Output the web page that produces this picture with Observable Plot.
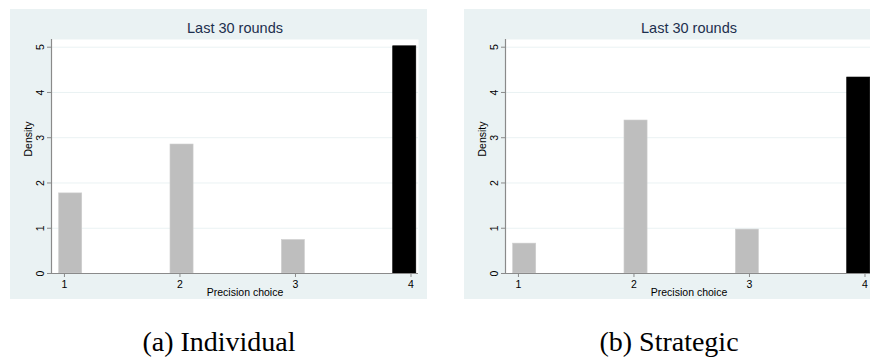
<!DOCTYPE html>
<html>
<head>
<meta charset="utf-8">
<script src="https://cdn.jsdelivr.net/npm/d3@7"></script>
<script src="https://cdn.jsdelivr.net/npm/@observablehq/plot@0.6"></script>
<style>
  body { margin: 0; background: #fff; }
  #wrap { position: relative; width: 870px; height: 362px; overflow: hidden; }
  .panel { position: absolute; top: 9px; width: 417px; height: 290px; }
  .panel svg { max-width: none !important; display: block; }
  .cap {
    position: absolute; top: 325px; width: 440px; text-align: center;
    font-family: "Liberation Serif", "DejaVu Serif", serif; font-size: 28px; line-height: 34px; color: #000;
  }
</style>
</head>
<body>
<div id="wrap"></div>
<script>
// Precision choices (x categories) and density of each choice in the last 30 rounds
const choices = [1, 2, 3, 4];
const individualDensity = [1.77, 2.85, 0.74, 5.02];
const strategicDensity = [0.66, 3.38, 0.97, 4.33];
const yTicks = [0, 1, 2, 3, 4, 5];
const panelTitle = "Last 30 rounds";
const xLabel = "Precision choice";
const yLabel = "Density";
const captions = ["(a) Individual", "(b) Strategic"];

const highlighted = 4;          // choice drawn in black
const xDomain = [0.888, 4.065];
const yDomain = [0, 5.17];
const halfBar = 0.1;
// histogram bins sit slightly inward of their axis ticks, as in the Stata output
const binPull = 0.964;
const mid = (choices[0] + choices[choices.length - 1]) / 2;
const binCenter = c => mid + (c - mid) * binPull;
const bg = "#EAF2F3";
const axisGray = "#8a8a8a";

function histogram(values, xLabelShift) {
  const rows = choices.map((c, i) => ({choice: c, density: values[i]}));
  const bar = (filter, fill) => Plot.rectY(rows, {
    filter,
    x1: d => binCenter(d.choice) - halfBar,
    x2: d => binCenter(d.choice) + halfBar,
    y1: 0,
    y2: "density",
    fill,
    stroke: fill === "#000" ? "#000" : "#cfcfcf",
    strokeWidth: 0.6
  });
  return Plot.plot({
    width: 417,
    height: 290,
    marginTop: 30,
    marginLeft: 41,
    marginRight: 9,
    marginBottom: 26,
    style: {
      background: bg,
      fontFamily: "'Liberation Sans', Arial, sans-serif",
      fontSize: "10.5px",
      color: "#000",
      overflow: "visible"
    },
    x: {domain: xDomain},
    y: {domain: yDomain},
    marks: [
      Plot.frame({fill: "#fff", stroke: null}),
      Plot.ruleY(yTicks.slice(1), {stroke: bg, strokeWidth: 1}),
      bar(d => d.choice !== highlighted, "#bebebe"),
      bar(d => d.choice === highlighted, "#000"),
      Plot.ruleY([yDomain[0]], {stroke: axisGray, strokeWidth: 1.2}),
      Plot.ruleX([xDomain[0]], {stroke: axisGray, strokeWidth: 1.2}),
      Plot.axisY(yTicks, {
        tickSize: 4, tickPadding: 4, tickRotate: -90, stroke: axisGray,
        tickFormat: "d", label: null, fill: "#000"
      }),
      Plot.axisX(choices, {
        tickSize: 4, tickPadding: 3, stroke: axisGray,
        tickFormat: "d", label: null, fill: "#000"
      }),
      Plot.text([yLabel], {
        frameAnchor: "left", dx: -23, rotate: -90, fill: "#000", fontSize: 10.5
      }),
      Plot.text([xLabel], {
        frameAnchor: "bottom", dy: 19, dx: xLabelShift, lineAnchor: "middle",
        fill: "#000", fontSize: 10.5
      }),
      Plot.text([panelTitle], {
        frameAnchor: "top", dy: -11, lineAnchor: "middle",
        fill: "#1d2f4e", fontSize: 14.5
      })
    ]
  });
}

const wrap = document.getElementById("wrap");
const panels = [
  {values: individualDensity, left: 10, shift: 10, cap: captions[0], capCenter: 219},
  {values: strategicDensity, left: 464, shift: 0, cap: captions[1], capCenter: 669}
];
for (const p of panels) {
  const div = document.createElement("div");
  div.className = "panel";
  div.style.left = p.left + "px";
  div.appendChild(histogram(p.values, p.shift));
  wrap.appendChild(div);

  const cap = document.createElement("div");
  cap.className = "cap";
  cap.style.left = (p.capCenter - 220) + "px";
  cap.textContent = p.cap;
  wrap.appendChild(cap);
}
</script>
</body>
</html>
